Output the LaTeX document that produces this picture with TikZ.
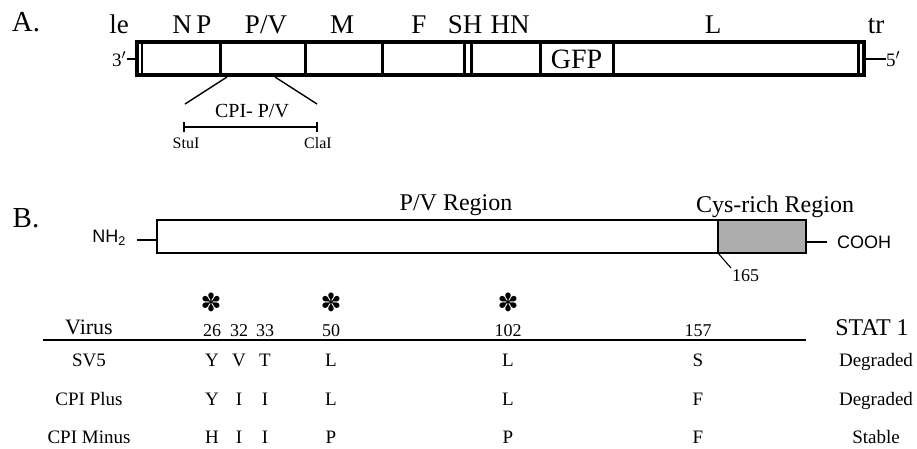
\documentclass[tikz,border=0pt]{standalone}
\usepackage{fontspec}
\setmainfont{Liberation Serif}
\newfontfamily\sansf{Liberation Sans}
\newfontfamily\dejav{DejaVu Sans}
\begin{document}
\begin{tikzpicture}[x=1pt,y=-1pt,
  every node/.style={inner sep=0pt,outer sep=0pt},
  panel/.style={font=\fontsize{29}{29}\selectfont,anchor=base},
  gene/.style={font=\fontsize{27}{27}\selectfont,anchor=base},
  region/.style={font=\fontsize{24}{24}\selectfont,anchor=base},
  site/.style={font=\fontsize{16}{16}\selectfont,anchor=base},
  tab/.style={font=\fontsize{19}{19}\selectfont,anchor=base},
  num/.style={font=\fontsize{18}{18}\selectfont,anchor=base},
  star/.style={font=\dejav\fontsize{25}{25}\selectfont},
  chem/.style={font=\sansf\fontsize{18}{18}\selectfont},
  end/.style={font=\fontsize{19}{19}\selectfont},
  frame/.style={line width=4pt},
  divider/.style={line width=3pt},
  thinline/.style={line width=1.4pt}]
\useasboundingbox (0,0) rectangle (917,448);
% ---------------- Panel A ----------------
\node[panel] (A) at (26,31) {A.};
\draw[frame] (137,42) rectangle (864,75);
\draw[line width=2.5pt] (142,42) -- (142,75);
\draw[line width=3pt] (858,42) -- (858,75);
\foreach \xx in {220,305,382,464,471,540,613}
  \draw[divider] (\xx,42) -- (\xx,75);
\node[font=\fontsize{28}{28}\selectfont] (gfp) at (576.5,59) {GFP};
\node[gene] (le) at (119,33) {le};
\node[gene] (np) at (192,33) {N\,P};
\node[gene] (pv) at (266,33) {P/V};
\node[gene] (m) at (342,33) {M};
\node[gene] (f) at (419,33) {F};
\node[gene] (sh) at (465,33) {SH};
\node[gene] (hn) at (510,33) {HN};
\node[gene] (l) at (713,33) {L};
\node[gene] (tr) at (876,33) {tr};
\node[end,anchor=east] (three) at (126,59) {3$'$};
\coordinate (threeL) at (127,59);
\coordinate (boxL) at (135,59);
\draw[thinline] (threeL) -- (boxL);
\coordinate (boxR) at (866,59);
\node[end,anchor=west] (five) at (886,59) {5$'$};
\draw[thinline] (boxR) -- (five.west);
% zoom lines and bracket
\coordinate (z1) at (227,77);
\coordinate (z2) at (275,77);
\coordinate (b1) at (185,104);
\coordinate (b2) at (317,104);
\draw[thinline] (z1) -- (b1);
\draw[thinline] (z2) -- (b2);
\node[font=\fontsize{20}{20}\selectfont,anchor=base] (cpipv) at (252,117) {CPI- P/V};
\coordinate (s1) at (184,127);
\coordinate (s2) at (317,127);
\draw[line width=1.3pt] (s1) -- (s2);
\draw[line width=1.3pt] ([yshift=-5pt]s1) -- ([yshift=5pt]s1);
\draw[line width=1.3pt] ([yshift=-5pt]s2) -- ([yshift=5pt]s2);
\node[site] (stu) at (186,148) {StuI};
\node[site] (cla) at (318,148) {ClaI};
% ---------------- Panel B ----------------
\node[panel] (B) at (26,227) {B.};
\node[region] (pvr) at (456,210) {P/V Region};
\node[region] (cys) at (775,212) {Cys-rich Region};
\draw[line width=1.2pt] (157,220) rectangle (806,253);
\draw[line width=1.2pt,fill=black!32] (718,220) rectangle (806,253);
\node[chem,anchor=east] (nh) at (126,238) {NH\textsubscript{2}};
\coordinate (pl) at (137,240);
\coordinate (pb) at (157,240);
\draw[thinline] (pl) -- (pb);
\coordinate (pr) at (806,242);
\node[chem,anchor=west] (cooh) at (837,242) {COOH};
\draw[thinline] (pr) -- (827,242);
\coordinate (c165) at (718,253);
\coordinate (e165) at (731,268);
\draw[line width=1.1pt] (c165) -- (e165);
\node[num,anchor=base west] (n165) at (732,281) {165};
% asterisks
\node[star] (st1) at (211,302) {✽};
\node[star] (st2) at (331,302) {✽};
\node[star] (st3) at (508,302) {✽};
% header
\node[font=\fontsize{22}{22}\selectfont,anchor=base] (virus) at (89,334) {Virus};
\node[num] (h26) at (212,336) {26};
\node[num] (h32) at (239,336) {32};
\node[num] (h33) at (265,336) {33};
\node[num] (h50) at (331,336) {50};
\node[num] (h102) at (508,336) {102};
\node[num] (h157) at (698,336) {157};
\node[font=\fontsize{24}{24}\selectfont,anchor=base] (stat) at (872,335) {STAT 1};
\coordinate (rl) at (43,340);
\coordinate (rr) at (806,340);
\draw[line width=1.5pt] (rl) -- (rr);
% rows
\foreach \yy/\name/\a/\b/\c/\d/\e/\f/\res in
  {366/SV5/Y/V/T/L/L/S/Degraded,
   405/CPI Plus/Y/I/I/L/L/F/Degraded,
   443/CPI Minus/H/I/I/P/P/F/Stable}{
  \node[tab] at (89,\yy) {\name};
  \node[tab] at (212,\yy) {\a};
  \node[tab] at (239,\yy) {\b};
  \node[tab] at (265,\yy) {\c};
  \node[tab] at (331,\yy) {\d};
  \node[tab] at (508,\yy) {\e};
  \node[tab] at (698,\yy) {\f};
  \node[tab] at (876,\yy) {\res};
}
\end{tikzpicture}
\end{document}
